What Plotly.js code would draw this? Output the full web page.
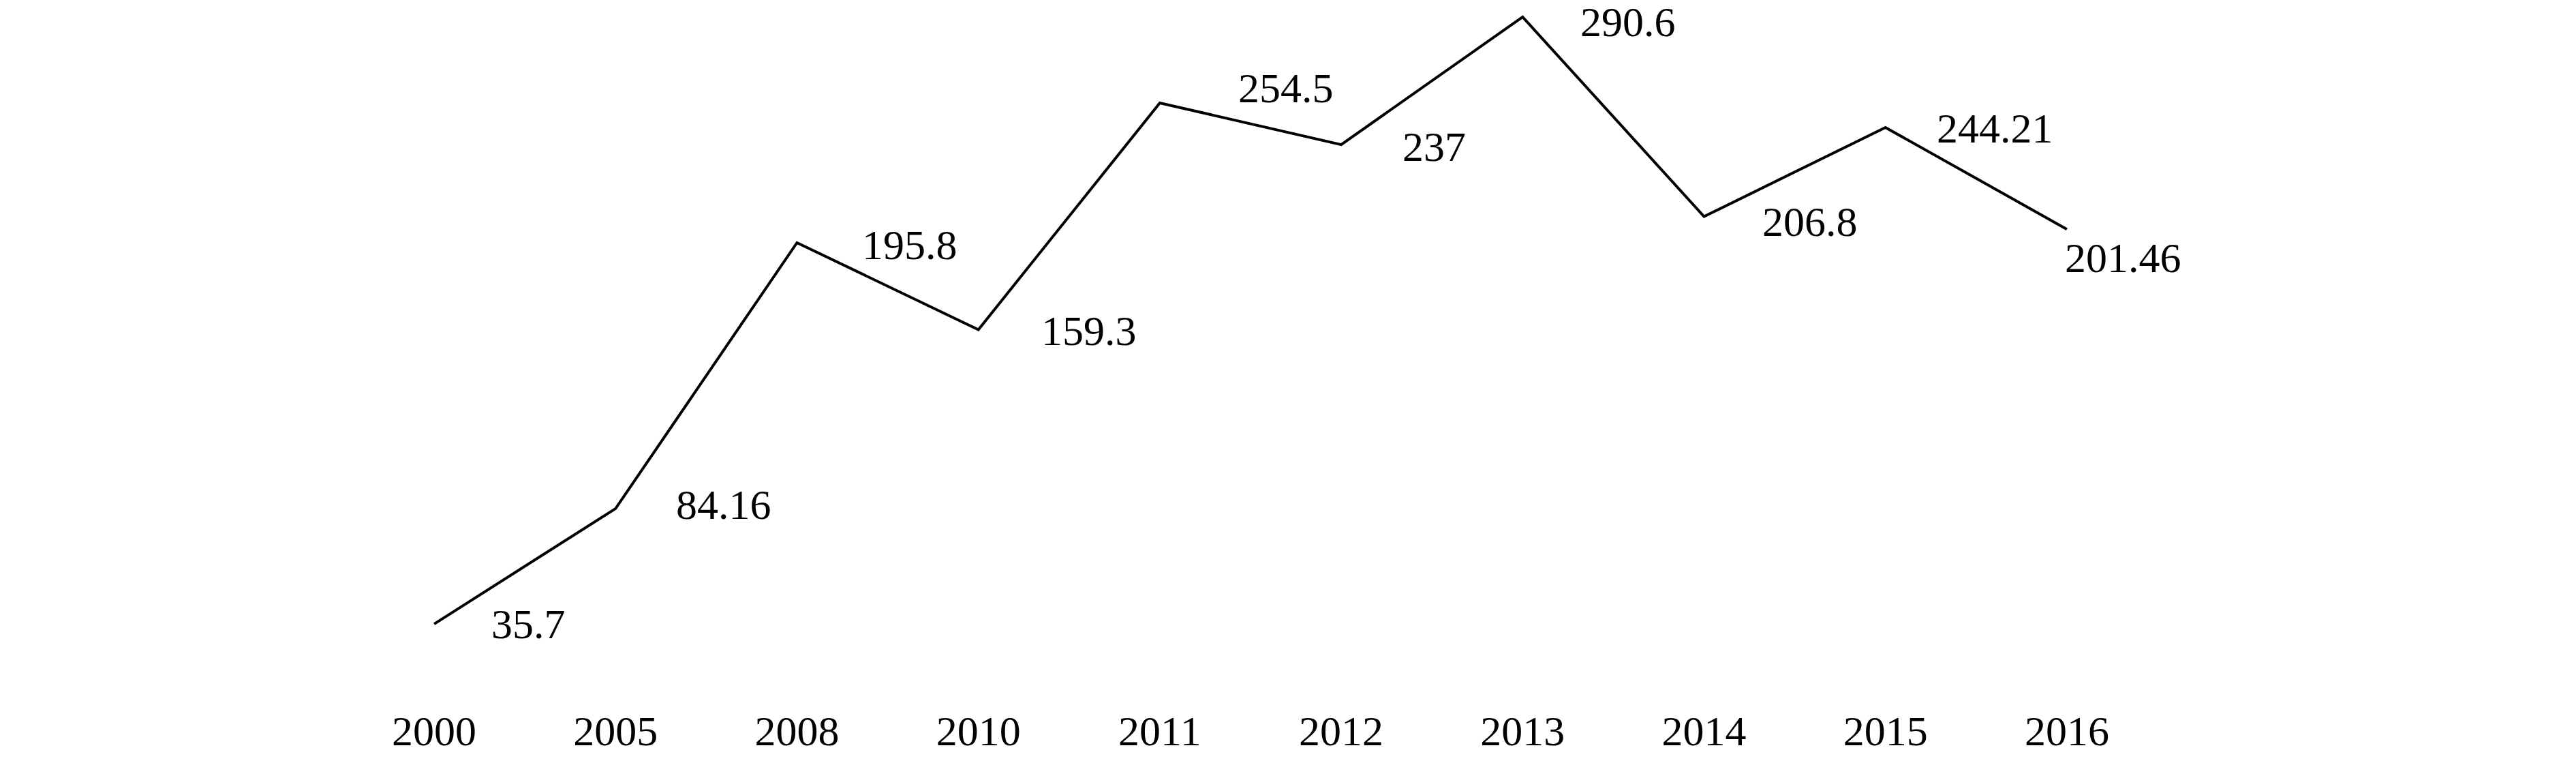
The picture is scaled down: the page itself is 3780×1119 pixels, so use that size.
<!DOCTYPE html>
<html>
<head>
<meta charset="utf-8">
<script src="https://cdn.plot.ly/plotly-3.0.1.min.js"></script>
<style>
  html, body { margin: 0; padding: 0; background: #fff; }
  #chart { width: 3780px; height: 1119px; }
</style>
</head>
<body>
<div id="chart"></div>
<script>
// Values
const years = ['2000', '2005', '2008', '2010', '2011', '2012', '2013', '2014', '2015', '2016'];
const values = [35.7, 84.16, 195.8, 159.3, 254.5, 237, 290.6, 206.8, 244.21, 201.46];
const valueLabels = ['35.7', '84.16', '195.8', '159.3', '254.5', '237', '290.6', '206.8', '244.21', '201.46'];

// Pixel nudges for the value labels (right, up)
const labelShiftX = [82, 87, 93, 90, 113, 88, 83, 83, 73, -5];
const labelShiftY = [0, 6, -3, -2, 22, -3, -7, -7, -1, -42];

const font = 'Liberation Serif, Times New Roman, serif';

const trace = {
  x: years,
  y: values,
  type: 'scatter',
  mode: 'lines',
  line: { color: '#000', width: 4 },
  hoverinfo: 'skip'
};

// Data labels placed on the data coordinates
const annotations = years.map((yr, i) => ({
  x: i,
  y: values[i],
  xref: 'x',
  yref: 'y',
  text: valueLabels[i],
  showarrow: false,
  xanchor: 'left',
  yanchor: 'middle',
  xshift: labelShiftX[i],
  yshift: labelShiftY[i],
  font: { family: font, size: 62, color: '#000' }
}));

const layout = {
  width: 3780,
  height: 1119,
  margin: { t: 5, l: 504, r: 614, b: 184 },
  showlegend: false,
  plot_bgcolor: '#fff',
  paper_bgcolor: '#fff',
  font: { family: font, color: '#000' },
  xaxis: {
    type: 'category',
    range: [-0.5, 9.5],
    showgrid: false,
    zeroline: false,
    showline: false,
    ticks: '',
    ticklabelstandoff: 95,
    tickfont: { family: font, size: 62, color: '#000' }
  },
  yaxis: {
    range: [30, 296.3],
    showticklabels: false,
    ticks: '',
    showline: false,
    showgrid: false,
    zeroline: false
  },
  annotations: annotations
};

Plotly.newPlot('chart', [trace], layout, { displayModeBar: false, staticPlot: true });
</script>
</body>
</html>
